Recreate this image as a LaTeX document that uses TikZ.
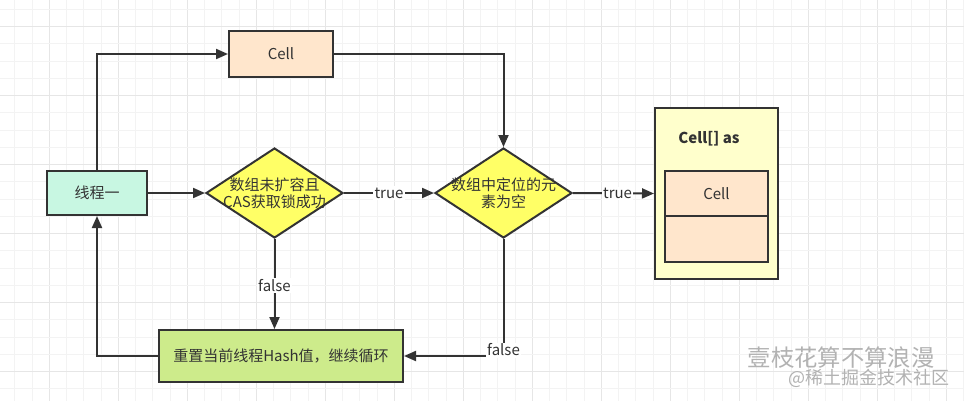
\documentclass[tikz,border=0pt]{standalone}
\usepackage{fontspec}
\setmainfont{Noto Sans CJK SC}
\usetikzlibrary{arrows.meta,shapes.geometric}
\definecolor{peach}{HTML}{FFE6CC}
\definecolor{mint}{HTML}{C8F7E2}
\definecolor{dyellow}{HTML}{FFFF66}
\definecolor{lgreen}{HTML}{CDEB8B}
\definecolor{lyellow}{HTML}{FFFFCC}
\definecolor{stroke}{HTML}{333333}
\definecolor{gridminor}{HTML}{F3F3F3}
\definecolor{gridmajor}{HTML}{E6E6E6}
\begin{document}
\begin{tikzpicture}[x=0.75pt,y=-0.75pt,
  font=\fontsize{11.25}{13}\selectfont,
  box/.style={draw=stroke, line width=1.5pt, text=black!80, inner sep=0pt, align=center},
  dec/.style={shape=diamond, draw=stroke, line width=1.5pt, fill=dyellow, inner sep=0pt,
    minimum width=102.75pt, minimum height=67.5pt},
  dectext/.style={text=black!80, align=center, font=\fontsize{11.25}{13}\selectfont},
  conn/.style={draw=stroke, line width=1.5pt, -{Triangle[length=9pt,width=7.5pt]}},
  lbl/.style={fill=white, text=black!80, inner sep=1pt},
  wm/.style={text=black!30}]
\useasboundingbox (0,0) rectangle (964,401);
\fill[white] (0,0) rectangle (964,401);
% grid
\foreach \i in {0,...,55} {
  \pgfmathsetmacro{\gx}{14.8+\i*17.25}
  \pgfmathtruncatemacro{\m}{mod(\i,4)}
  \ifnum\m=2 \draw[gridmajor, line width=0.75pt] (\gx,0) -- (\gx,401);
  \else \draw[gridminor, line width=0.75pt] (\gx,0) -- (\gx,401); \fi
}
\foreach \j in {0,...,22} {
  \pgfmathsetmacro{\gy}{9.45+\j*17.25}
  \pgfmathtruncatemacro{\m}{mod(\j,4)}
  \ifnum\m=1 \draw[gridmajor, line width=0.75pt] (0,\gy) -- (964,\gy);
  \else \draw[gridminor, line width=0.75pt] (0,\gy) -- (964,\gy); \fi
}
% nodes
\node[box, fill=peach, minimum width=78pt, minimum height=34.5pt] (cell) at (281,54) {Cell};
\node[box, fill=mint, minimum width=75pt, minimum height=33pt] (thread) at (97,193) {线程一};
\node[dec, label={[dectext]center:{数组未扩容且\\CAS获取锁成功}}] (d1) at (274.5,193) {};
\node[dec, label={[dectext]center:{数组中定位的元\\素为空}}] (d2) at (503.5,193) {};
\node[box, fill=lyellow, minimum width=92.25pt, minimum height=128.25pt] (outer) at (716.5,193.5) {};
\node[text=black!80, font=\fontsize{11.25}{13}\selectfont\bfseries] (astitle) at (709,139) {Cell[] as};
\node[box, fill=peach, minimum width=77.25pt, minimum height=33.75pt] (c1) at (716.5,193.5) {Cell};
\node[box, fill=peach, minimum width=77.25pt, minimum height=34.5pt] (c2) at (716.5,239) {};
\node[box, fill=lgreen, minimum width=183pt, minimum height=39pt] (green) at (281,356) {重置当前线程Hash值，继续循环};
% connectors
\draw[conn] (thread.north) |- (cell.west);
\draw[conn] (cell.east) -| (d2.north);
\draw[conn] (thread.east) -- (d1.west);
\draw[conn] (d1.east) -- node[lbl]{true} (d2.west);
\draw[conn] (d2.east) -- node[lbl, pos=0.55]{true} (outer.west);
\draw[conn] (d1.south) -- node[lbl, pos=0.52]{false} (d1.south |- green.north);
\draw[conn] (d2.south) |- node[lbl, pos=0.5, yshift=4.5pt]{false} (green.east);
\draw[conn] (green.west) -| (thread.south);
% watermark
\node[wm, font=\fontsize{17.5}{18}\selectfont] (wm1) at (841,358) {壹枝花算不算浪漫};
\node[wm, font=\fontsize{13.5}{14}\selectfont] (wm2) at (869,378) {@稀土掘金技术社区};
\end{tikzpicture}
\end{document}
